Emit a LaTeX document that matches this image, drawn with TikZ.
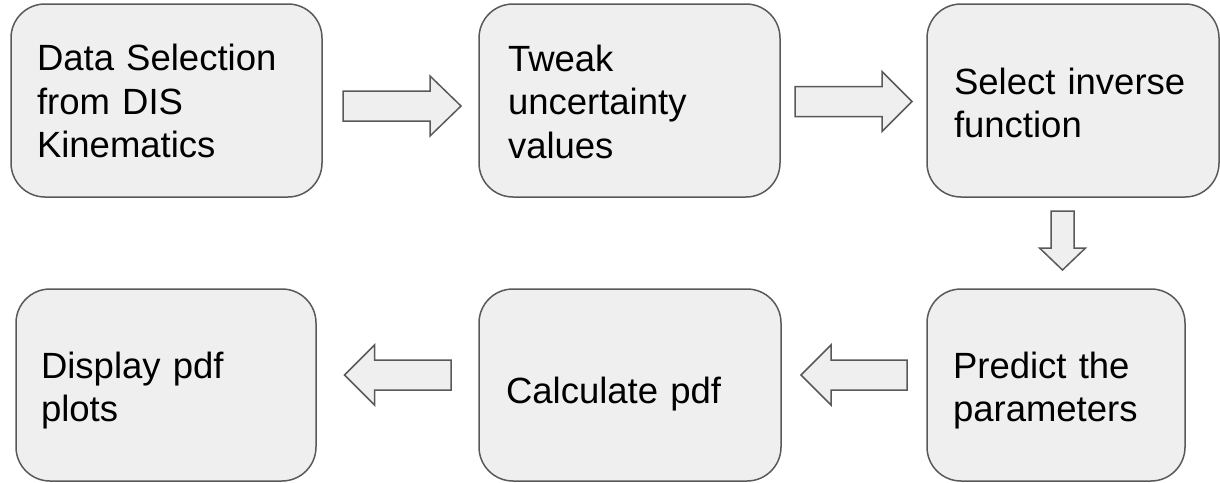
\documentclass[tikz,border=0pt]{standalone}
\usepackage{fontspec}
\setmainfont{Liberation Sans}
\usetikzlibrary{calc}
\definecolor{boxfill}{HTML}{EFEFEF}
\definecolor{boxline}{HTML}{595959}
\tikzset{
  stepbox/.style={draw=boxline, fill=boxfill, line width=1.5pt, rounded corners=34pt,
    rectangle, inner sep=0pt, outer sep=0pt},
  steptext/.style={anchor=base west, inner sep=0pt, outer sep=0pt, text width=300pt,
    align=left, font=\fontsize{36.5}{43.5}\selectfont, text=black},
  blockarrow/.style={draw=boxline, fill=boxfill, line width=1.5pt, line join=miter},
}
\begin{document}
\begin{tikzpicture}[x=1pt, y=-1pt]
\useasboundingbox (0,0) rectangle (1220,482);

% process boxes
\node[stepbox, minimum width=311pt, minimum height=193pt] (b1) at (166.5,100.5) {};
\node[stepbox, minimum width=301pt, minimum height=193pt] (b2) at (629.5,100.5) {};
\node[stepbox, minimum width=292pt, minimum height=193pt] (b3) at (1073,100.5) {};
\node[stepbox, minimum width=300pt, minimum height=192pt] (b4) at (166,385) {};
\node[stepbox, minimum width=302pt, minimum height=192pt] (b5) at (630,385) {};
\node[stepbox, minimum width=258pt, minimum height=192pt] (b6) at (1056,385) {};

% box labels (first-line baselines)
\node[steptext] (t1) at (37,70.5) {Data Selection\\from DIS\\Kinematics};
\node[steptext] (t2) at (508,71) {Tweak\\uncertainty\\values};
\node[steptext] (t3) at (954,94) {Select inverse\\function};
\node[steptext] (t4) at (41,378) {Display pdf\\plots};
\node[steptext] (t5) at (506,403) {Calculate pdf};
\node[steptext] (t6) at (953,378) {Predict the\\parameters};

% hollow block arrows between the boxes
\draw[blockarrow] (343,91) -- (430,91) -- (430,76) -- (461,106) -- (430,136) -- (430,121) -- (343,121) -- cycle;
\draw[blockarrow] (795,86.5) -- (882,86.5) -- (882,71.5) -- (912,101.5) -- (882,131.5) -- (882,116.5) -- (795,116.5) -- cycle;
\draw[blockarrow] (1051,211) -- (1074,211) -- (1074,248) -- (1085.5,248) -- (1062.5,270) -- (1039.5,248) -- (1051,248) -- cycle;
\draw[blockarrow] (907,360) -- (831,360) -- (831,345) -- (801,375) -- (831,405) -- (831,390) -- (907,390) -- cycle;
\draw[blockarrow] (451,360) -- (374.5,360) -- (374.5,345) -- (344.5,375) -- (374.5,405) -- (374.5,390) -- (451,390) -- cycle;
\end{tikzpicture}
\end{document}
